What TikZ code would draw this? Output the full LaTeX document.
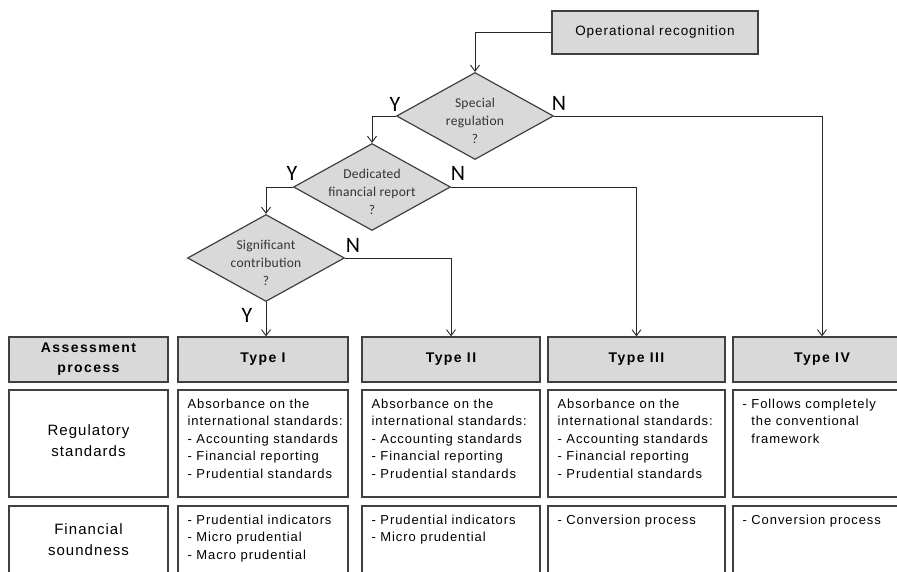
\documentclass[tikz,border=0pt]{standalone}
\usepackage{fontspec}
\setmainfont{Liberation Sans}
\newfontfamily\bodyfont[LetterSpace=7]{Liberation Sans}
\newfontfamily\hdrfont[LetterSpace=10]{Liberation Sans}
\newfontfamily\qfont[LetterSpace=2]{Carlito}
\newfontfamily\ynfont{Carlito}
\usetikzlibrary{shapes.geometric,arrows.meta}
\definecolor{boxgray}{HTML}{D9D9D9}
\definecolor{edgegray}{HTML}{404040}
\definecolor{qtext}{HTML}{333333}

\begin{document}
\begin{tikzpicture}[x=1pt,y=-1pt]

      \tikzset{hdr/.style={draw=edgegray, line width=1.2pt, fill=boxgray, inner sep=0pt, minimum height=45, align=center, font=\hdrfont\bfseries\fontsize{14}{20}\selectfont},
               cell/.style={draw=edgegray, line width=1.2pt, fill=white, inner sep=0pt},
               celltxt/.style={anchor=north west, inner sep=0pt, align=left, font=\bodyfont\fontsize{13}{17.6}\selectfont},
               rowtxt/.style={inner sep=0pt, align=center, font=\bodyfont\fontsize{15}{21}\selectfont},
               dec/.style={diamond, draw=edgegray, line width=1.2pt, fill=boxgray, inner sep=0pt, minimum width=157, minimum height=87},
               dectxt/.style={inner sep=0pt, align=center, text=qtext, font=\qfont\fontsize{13.5}{18}\selectfont},
               yn/.style={inner sep=0pt, font=\ynfont\fontsize{22}{22}\selectfont},
               conn/.style={draw=black!85, line width=0.9pt, -{Straight Barb[length=6pt,width=9pt]}}}

      \useasboundingbox (0,0) rectangle (897,572);
      \clip (0,0) rectangle (897,572);
%% Decisions
      	\node[draw=edgegray, line width=1.2pt, fill=boxgray, inner sep=0pt, minimum width=206, minimum height=43, font=\bodyfont\fontsize{13.5}{16}\selectfont] (op) at (655,32.5) {Operational recognition};
      	\node[dec] (d1) at (475,116) {};
      	\node[dectxt] (d1txt) at (475,121) {Special\\regulation\\?};
      	\node[dec] (d2) at (372,187) {};
      	\node[dectxt] (d2txt) at (372,192) {Dedicated\\financial report\\?};
      	\node[dec] (d3) at (266,258) {};
      	\node[dectxt] (d3txt) at (266,263) {Significant\\contribution\\?};
      	\node[yn] (y1) at (395,104) {Y};
      	\node[yn] (n1) at (559,103) {N};
      	\node[yn] (y2) at (292,173) {Y};
      	\node[yn] (n2) at (458,173) {N};
      	\node[yn] (n3) at (353,245) {N};
      	\node[yn] (y3) at (247,315) {Y};
%% Table headers
      	\node[hdr, minimum width=159] (assess) at (88.5,359.5) {Assessment\\process};
      	\node[hdr, minimum width=170] (t1) at (263,359.5) {Type I};
      	\node[hdr, minimum width=178] (t2) at (451,359.5) {Type II};
      	\node[hdr, minimum width=177] (t3) at (636.5,359.5) {Type III};
      	\node[hdr, minimum width=178] (t4) at (822,359.5) {Type IV};
%% Regulatory standards row
      	\node[cell, minimum width=159, minimum height=107] (reg0) at (88.5,443.5) {};
      	\node[cell, minimum width=170, minimum height=107] (reg1) at (263,443.5) {};
      	\node[cell, minimum width=178, minimum height=107] (reg2) at (451,443.5) {};
      	\node[cell, minimum width=177, minimum height=107] (reg3) at (636.5,443.5) {};
      	\node[cell, minimum width=178, minimum height=107] (reg4) at (822,443.5) {};
      	\node[rowtxt] (reg0txt) at (88.5,441) {Regulatory\\standards};
      	\node[celltxt] (reg1txt) at ([xshift=10pt,yshift=-9pt]reg1.north west) {Absorbance on the\\international standards:\\- Accounting standards\\- Financial reporting\\- Prudential standards};
      	\node[celltxt] (reg2txt) at ([xshift=10pt,yshift=-9pt]reg2.north west) {Absorbance on the\\international standards:\\- Accounting standards\\- Financial reporting\\- Prudential standards};
      	\node[celltxt] (reg3txt) at ([xshift=10pt,yshift=-9pt]reg3.north west) {Absorbance on the\\international standards:\\- Accounting standards\\- Financial reporting\\- Prudential standards};
      	\node[celltxt] (reg4txt) at ([xshift=10pt,yshift=-9pt]reg4.north west) {- Follows completely\\\phantom{- }the conventional\\\phantom{- }framework};
%% Financial soundness row
      	\node[cell, minimum width=159, minimum height=124] (fin0) at (88.5,568) {};
      	\node[cell, minimum width=170, minimum height=124] (fin1) at (263,568) {};
      	\node[cell, minimum width=178, minimum height=124] (fin2) at (451,568) {};
      	\node[cell, minimum width=177, minimum height=124] (fin3) at (636.5,568) {};
      	\node[cell, minimum width=178, minimum height=124] (fin4) at (822,568) {};
      	\node[rowtxt] (fin0txt) at (88.5,540) {Financial\\soundness};
      	\node[celltxt] (fin1txt) at ([xshift=10pt,yshift=-9pt]fin1.north west) {- Prudential indicators\\- Micro prudential\\- Macro prudential};
      	\node[celltxt] (fin2txt) at ([xshift=10pt,yshift=-9pt]fin2.north west) {- Prudential indicators\\- Micro prudential};
      	\node[celltxt] (fin3txt) at ([xshift=10pt,yshift=-9pt]fin3.north west) {- Conversion process};
      	\node[celltxt] (fin4txt) at ([xshift=10pt,yshift=-9pt]fin4.north west) {- Conversion process};
%Arrows
		\draw[conn] (op.west) -| (d1.north);
		\draw[conn] (d1.west) -| (d2.north);
		\draw[conn] (d1.east) -| (t4.north);
		\draw[conn] (d2.west) -| (d3.north);
		\draw[conn] (d2.east) -| (t3.north);
		\draw[conn] (d3.east) -| (t2.north);
		\draw[conn] (d3.south) -- (d3.south |- t1.north);

	\end{tikzpicture}
\end{document}
